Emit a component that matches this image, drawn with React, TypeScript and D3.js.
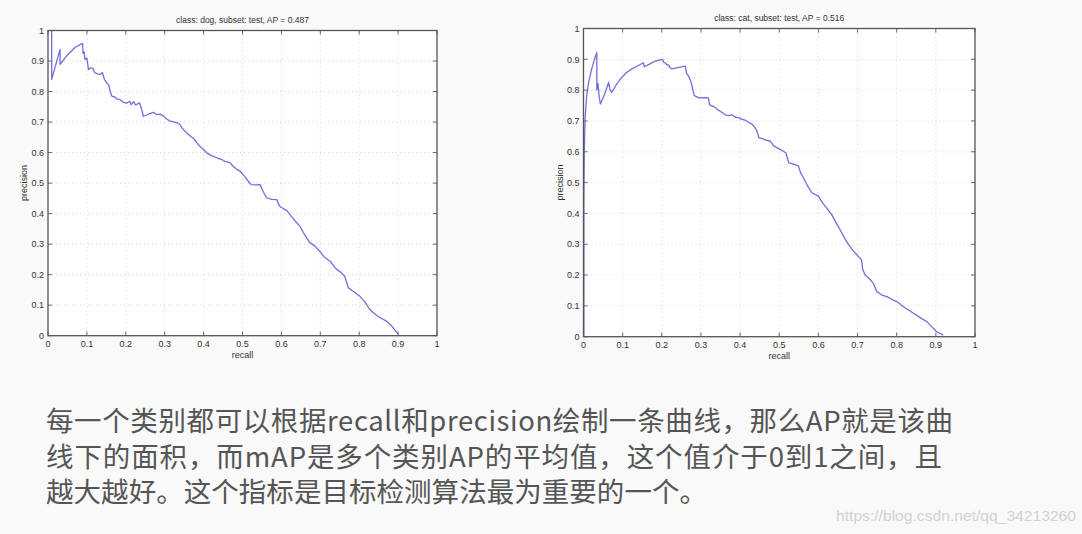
import React from "react";
import * as d3 from "d3";

const dogTitle = "class: dog, subset: test, AP = 0.487";
const catTitle = "class: cat, subset: test, AP = 0.516";
const ticks = [0, 0.1, 0.2, 0.3, 0.4, 0.5, 0.6, 0.7, 0.8, 0.9, 1];
const tickLabels = ["0", "0.1", "0.2", "0.3", "0.4", "0.5", "0.6", "0.7", "0.8", "0.9", "1"];

const dogRecall = [0.0094,0.0094,0.031,0.031,0.05,0.07,0.089,0.09,0.093,0.095,0.1,0.104,0.11,0.116,0.12,0.127,0.134,0.14,0.145,0.151,0.156,0.16,0.164,0.172,0.178,0.185,0.193,0.202,0.21,0.214,0.22,0.225,0.235,0.241,0.245,0.255,0.262,0.271,0.28,0.288,0.297,0.305,0.314,0.325,0.333,0.339,0.345,0.356,0.365,0.375,0.383,0.391,0.4,0.408,0.42,0.434,0.445,0.455,0.468,0.475,0.485,0.494,0.505,0.515,0.522,0.535,0.545,0.552,0.562,0.575,0.588,0.595,0.6,0.614,0.625,0.636,0.648,0.66,0.673,0.685,0.699,0.71,0.725,0.74,0.755,0.763,0.772,0.785,0.802,0.815,0.825,0.836,0.85,0.871,0.885,0.9];
const dogPrecision = [1.0,0.84,0.938,0.889,0.92,0.945,0.958,0.925,0.93,0.905,0.91,0.872,0.878,0.875,0.862,0.858,0.856,0.862,0.84,0.828,0.822,0.8,0.785,0.782,0.775,0.774,0.765,0.762,0.768,0.757,0.767,0.756,0.763,0.741,0.719,0.724,0.728,0.732,0.724,0.726,0.719,0.71,0.703,0.7,0.697,0.692,0.68,0.665,0.655,0.645,0.632,0.62,0.61,0.599,0.59,0.583,0.578,0.571,0.567,0.556,0.545,0.539,0.523,0.506,0.495,0.494,0.495,0.475,0.452,0.447,0.446,0.425,0.42,0.41,0.392,0.375,0.358,0.33,0.305,0.295,0.276,0.258,0.244,0.22,0.205,0.194,0.157,0.145,0.129,0.11,0.09,0.075,0.062,0.047,0.03,0.005];

const catRecall = [0.001,0.001,0.002,0.004,0.008,0.013,0.021,0.028,0.034,0.034,0.037,0.04,0.043,0.05,0.055,0.064,0.068,0.072,0.085,0.098,0.11,0.124,0.14,0.153,0.155,0.17,0.183,0.202,0.205,0.209,0.213,0.217,0.222,0.226,0.24,0.26,0.263,0.27,0.275,0.278,0.283,0.295,0.31,0.319,0.322,0.335,0.345,0.353,0.362,0.37,0.379,0.388,0.396,0.405,0.413,0.422,0.43,0.437,0.443,0.448,0.458,0.468,0.477,0.485,0.502,0.517,0.524,0.536,0.549,0.555,0.562,0.572,0.583,0.6,0.61,0.621,0.634,0.645,0.655,0.667,0.677,0.688,0.698,0.71,0.713,0.719,0.73,0.74,0.749,0.762,0.775,0.79,0.8,0.82,0.843,0.86,0.877,0.89,0.902,0.919];
const catPrecision = [0,0.45,0.6,0.706,0.78,0.825,0.869,0.9,0.922,0.8,0.822,0.78,0.755,0.775,0.79,0.825,0.8,0.793,0.82,0.842,0.857,0.869,0.88,0.889,0.876,0.885,0.894,0.9,0.89,0.888,0.882,0.882,0.872,0.869,0.873,0.878,0.855,0.842,0.825,0.809,0.782,0.775,0.776,0.775,0.752,0.745,0.735,0.728,0.72,0.717,0.72,0.712,0.711,0.705,0.703,0.695,0.69,0.68,0.668,0.646,0.642,0.637,0.635,0.62,0.608,0.597,0.565,0.56,0.554,0.53,0.516,0.49,0.467,0.456,0.435,0.418,0.396,0.37,0.348,0.32,0.299,0.28,0.266,0.25,0.22,0.201,0.188,0.174,0.147,0.135,0.13,0.12,0.114,0.095,0.076,0.062,0.049,0.032,0.016,0.005];

const paragraphLines = [
  "每一个类别都可以根据recall和precision绘制一条曲线，那么AP就是该曲",
  "线下的面积，而mAP是多个类别AP的平均值，这个值介于0到1之间，且",
  "越大越好。这个指标是目标检测算法最为重要的一个。",
];
const paragraphWidths = [907, 896, 661];
const watermark = "https://blog.csdn.net/qq_34213260";

type PanelProps = {
  left: number; right: number; top: number; bottom: number;
  title: string; recall: number[]; precision: number[]; ylabX: number;
};

function Panel({ left, right, top, bottom, title, recall, precision, ylabX }: PanelProps) {
  const x = d3.scaleLinear().domain([0, 1]).range([left, right]);
  const y = d3.scaleLinear().domain([0, 1]).range([bottom, top]);
  const pts: [number, number][] = recall.map((r, i) => [r, precision[i]]);
  const line = d3.line<[number, number]>().x((d) => x(d[0])).y((d) => y(d[1]));
  const font = "'Liberation Sans', Arial, Helvetica, sans-serif";
  const tl = 4;
  return (
    <g>
      <rect x={left} y={top} width={right - left} height={bottom - top} fill="#ffffff" />
      {ticks.slice(1, -1).map((t) => (
        <g key={"g" + t}>
          <line x1={x(t)} x2={x(t)} y1={top} y2={bottom} stroke="#c8c8c8" strokeWidth={0.8} strokeDasharray="1,3" />
          <line x1={left} x2={right} y1={y(t)} y2={y(t)} stroke="#c8c8c8" strokeWidth={0.8} strokeDasharray="1,3" />
        </g>
      ))}
      {ticks.map((t) => (
        <g key={"t" + t} stroke="#555" strokeWidth={0.9}>
          <line x1={x(t)} x2={x(t)} y1={bottom} y2={bottom - tl} />
          <line x1={x(t)} x2={x(t)} y1={top} y2={top + tl} />
          <line x1={left} x2={left + tl} y1={y(t)} y2={y(t)} />
          <line x1={right} x2={right - tl} y1={y(t)} y2={y(t)} />
        </g>
      ))}
      <path d={line(pts) || ""} fill="none" stroke="#6f6fdc" strokeWidth={1.3} strokeLinejoin="round" />
      <rect x={left} y={top} width={right - left} height={bottom - top} fill="none" stroke="#555" strokeWidth={1.3} />
      {ticks.map((t, i) => (
        <text key={"xl" + t} x={x(t)} y={bottom + 11.5} textAnchor="middle" fontSize={9} fontFamily={font} fill="#333">
          {tickLabels[i]}
        </text>
      ))}
      {ticks.map((t, i) => (
        <text key={"yl" + t} x={left - 4} y={y(t) + 3.2} textAnchor="end" fontSize={9} fontFamily={font} fill="#333">
          {tickLabels[i]}
        </text>
      ))}
      <text x={(left + right) / 2} y={bottom + 22.5} textAnchor="middle" fontSize={9} fontFamily={font} fill="#333">recall</text>
      <text transform={`translate(${ylabX},${(top + bottom) / 2}) rotate(-90)`} textAnchor="middle" fontSize={9} fontFamily={font} fill="#333">precision</text>
      <text x={(left + right) / 2} y={top - 8} textAnchor="middle" fontSize={8.5} fontFamily={font} fill="#333">{title}</text>
    </g>
  );
}

export default function App() {
  return (
    <div style={{ position: "absolute", left: 0, top: 0 }}>
      <svg width={1082} height={534} style={{ display: "block" }}>
        <rect x={0} y={0} width={1082} height={534} fill="#f8f9f8" />
        <Panel left={48} right={437} top={30.5} bottom={335.7} title={dogTitle} recall={dogRecall} precision={dogPrecision} ylabX={27} />
        <Panel left={583.5} right={975} top={28.5} bottom={336.7} title={catTitle} recall={catRecall} precision={catPrecision} ylabX={563} />
        {paragraphLines.map((s, i) => (
          <text key={i} x={46} y={431 + i * 35.5} fontSize={27.5} fontFamily="'Noto Sans CJK SC', sans-serif" fill="#555" textLength={paragraphWidths[i]} lengthAdjust="spacing">{s}</text>
        ))}
        <text x={836} y={521} fontSize={15} fontFamily="'Liberation Sans Narrow', 'Liberation Sans', sans-serif" fill="#d2d2d2" textLength={240} lengthAdjust="spacingAndGlyphs">{watermark}</text>
      </svg>
    </div>
  );
}
